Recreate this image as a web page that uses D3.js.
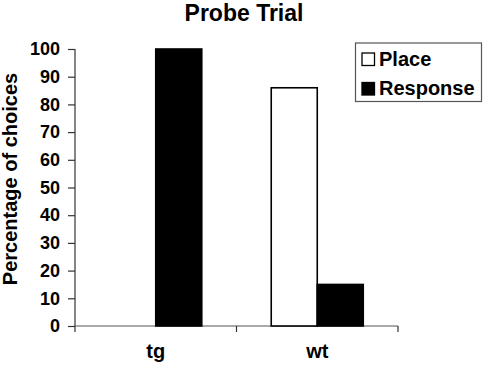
<!DOCTYPE html>
<html>
<head>
<meta charset="utf-8">
<script src="https://cdn.jsdelivr.net/npm/d3@7"></script>
<style>
  html, body { margin: 0; padding: 0; background: #fff; }
  text { font-family: "Liberation Sans", Arial, sans-serif; font-weight: bold; fill: #000; }
</style>
</head>
<body>
<svg id="chart" width="485" height="369"></svg>
<script>
const categories = ["tg", "wt"];
const seriesNames = ["Place", "Response"];
const placeValues = [0, 86];
const responseValues = [100, 15];
const yTicks = [0, 10, 20, 30, 40, 50, 60, 70, 80, 90, 100];
const chartTitle = "Probe Trial";
const yLabel = "Percentage of choices";

(function () {
const svg = d3.select("#chart");
const mLeft = 75, mRight = 398, mTop = 49, mBottom = 326;

const x0 = d3.scaleBand().domain(categories).range([mLeft, mRight]).padding(0);
const x1 = d3.scaleBand().domain(seriesNames).range([0, x0.bandwidth()])
  .paddingInner(0).paddingOuter(0.755);
const y = d3.scaleLinear().domain([0, 100]).range([mBottom, mTop]);

const fills = { Place: "#fff", Response: "#000" };
const rows = categories.map((c, i) => ({
  cat: c,
  values: [{ s: "Place", v: placeValues[i] }, { s: "Response", v: responseValues[i] }]
}));

// title
svg.append("text").attr("x", 244).attr("y", 21).attr("text-anchor", "middle")
  .style("font-size", "23px").text(chartTitle);

// y axis
const yAxis = svg.append("g").attr("transform", `translate(${mLeft},0)`)
  .call(d3.axisLeft(y).tickValues(yTicks).tickSize(7).tickSizeOuter(0).tickPadding(8));
yAxis.select(".domain").remove();
yAxis.attr("font-family", null).attr("font-size", null);
yAxis.selectAll(".tick line").attr("stroke", "#333").attr("stroke-width", 1.2);
yAxis.selectAll(".tick text").style("font-size", "18px");
svg.append("line").attr("x1", mLeft).attr("x2", mLeft).attr("y1", y(100)).attr("y2", mBottom + 6)
  .attr("stroke", "#333").attr("stroke-width", 1.2);

// x axis
svg.append("line").attr("x1", mLeft).attr("x2", mRight).attr("y1", mBottom).attr("y2", mBottom)
  .attr("stroke", "#555").attr("stroke-width", 1.2);
svg.selectAll(".xtick").data(categories).enter().append("line")
  .attr("x1", d => x0(d) + x0.bandwidth()).attr("x2", d => x0(d) + x0.bandwidth())
  .attr("y1", mBottom).attr("y2", mBottom + 6).attr("stroke", "#333").attr("stroke-width", 1.2);
svg.selectAll(".xlab").data(categories).enter().append("text")
  .attr("x", d => x0(d) + x0.bandwidth() / 2).attr("y", 358)
  .attr("text-anchor", "middle").style("font-size", "20px").text(d => d);

// bars
const g = svg.selectAll(".grp").data(rows).enter().append("g")
  .attr("transform", d => `translate(${x0(d.cat)},0)`);
g.selectAll("rect").data(d => d.values).enter().append("rect")
  .attr("x", d => x1(d.s)).attr("width", x1.bandwidth())
  .attr("y", d => y(d.v)).attr("height", d => y(0) - y(d.v))
  .attr("fill", d => fills[d.s])
  .attr("stroke", d => d.v > 0 ? "#000" : "none").attr("stroke-width", 1.6);

// y label
svg.append("text").attr("transform", "translate(17,179) rotate(-90)")
  .attr("text-anchor", "middle").style("font-size", "20px").text(yLabel);

// legend
const lg = svg.append("g");
lg.append("rect").attr("x", 355.5).attr("y", 43).attr("width", 126).attr("height", 58.5)
  .attr("fill", "#fff").attr("stroke", "#555").attr("stroke-width", 1.2);
seriesNames.forEach((s, i) => {
  const yy = 65.5 + i * 29.5;
  lg.append("rect").attr("x", 362).attr("y", yy - 12.5).attr("width", 12.5).attr("height", 12.5)
    .attr("fill", fills[s]).attr("stroke", "#000").attr("stroke-width", 1.3);
  lg.append("text").attr("x", 379).attr("y", yy).style("font-size", "20px").text(s);
});
})();
</script>
</body>
</html>
